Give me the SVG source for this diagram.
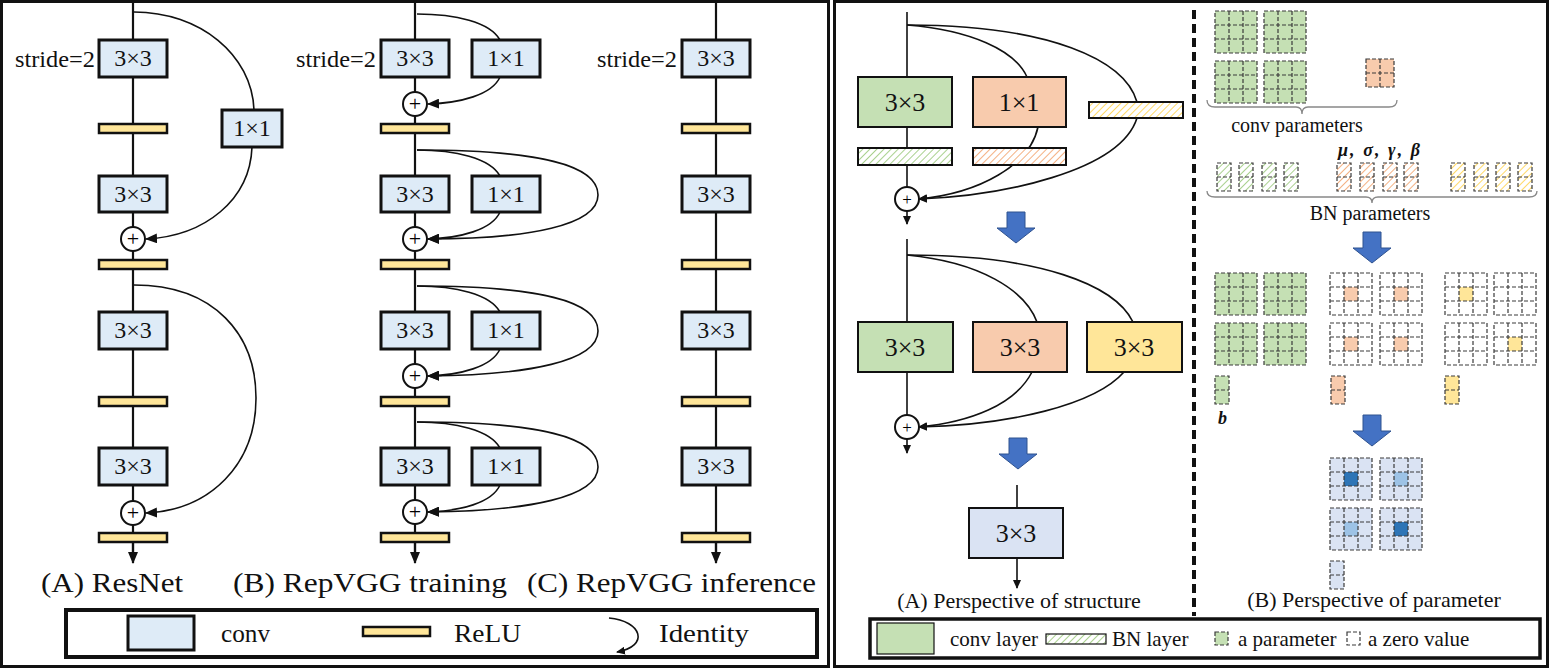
<svg xmlns="http://www.w3.org/2000/svg" xmlns:xlink="http://www.w3.org/1999/xlink" width="1550" height="668" viewBox="0 0 1550 668">
<style>
.t{font-family:"Liberation Serif","Times New Roman",serif;fill:#111}
.conv{fill:#DEEBF7;stroke:#111;stroke-width:3}
.relu{fill:#FFE699;stroke:#111;stroke-width:2.5}
.ln{fill:none;stroke:#111;stroke-width:2.2}
.ln2{fill:none;stroke:#111;stroke-width:1.6}
.circ{fill:#fff;stroke:#111;stroke-width:2}
.plus{font-family:"Liberation Serif","Times New Roman",serif;fill:#000}
.bx{stroke:#111;stroke-width:2}
.dash{fill:none;stroke:#3a3a3a;stroke-width:1.2;stroke-dasharray:4,2}
.brace{fill:none;stroke:#888;stroke-width:1.3}
.barrow{fill:#4472C4;stroke:#2F528F;stroke-width:1}
.frame{fill:none;stroke:#111;stroke-width:3}
</style>
<defs>
<marker id="ah" markerUnits="userSpaceOnUse" markerWidth="12" markerHeight="10" refX="11" refY="5" orient="auto"><path d="M0,0 L12,5 L0,10 Z" fill="#111"/></marker>
<marker id="ahs" markerUnits="userSpaceOnUse" markerWidth="9" markerHeight="8" refX="8" refY="4" orient="auto"><path d="M0,0 L9,4 L0,8 Z" fill="#111"/></marker>
<pattern id="hg" width="5" height="5" patternUnits="userSpaceOnUse" patternTransform="rotate(45)"><rect width="5" height="5" fill="#fff"/><line x1="0" y1="0" x2="0" y2="5" stroke="#A9D18E" stroke-width="2"/></pattern>
<pattern id="ho" width="5" height="5" patternUnits="userSpaceOnUse" patternTransform="rotate(45)"><rect width="5" height="5" fill="#fff"/><line x1="0" y1="0" x2="0" y2="5" stroke="#F4B183" stroke-width="2"/></pattern>
<pattern id="hy" width="5" height="5" patternUnits="userSpaceOnUse" patternTransform="rotate(45)"><rect width="5" height="5" fill="#fff"/><line x1="0" y1="0" x2="0" y2="5" stroke="#FFD966" stroke-width="2"/></pattern>
<g id="g3lines"><path class="dash" d="M0,0 H42 V42 H0 Z M14,0 V42 M28,0 V42 M0,14 H42 M0,28 H42"/></g>
<g id="gGreen"><rect width="42" height="42" fill="#C5E0B4"/><use href="#g3lines"/></g>
<g id="gWhite"><rect width="42" height="42" fill="#fff"/><use href="#g3lines"/></g>
<g id="gOrange"><rect width="42" height="42" fill="#fff"/><rect x="14" y="14" width="14" height="14" fill="#F8CBAD"/><use href="#g3lines"/></g>
<g id="gYellow"><rect width="42" height="42" fill="#fff"/><rect x="14" y="14" width="14" height="14" fill="#FFE699"/><use href="#g3lines"/></g>
<g id="gBlueD"><rect width="42" height="42" fill="#DAE3F3"/><rect x="14" y="14" width="14" height="14" fill="#2E75B6"/><use href="#g3lines"/></g>
<g id="gBlueL"><rect width="42" height="42" fill="#DAE3F3"/><rect x="14" y="14" width="14" height="14" fill="#9DC3E6"/><use href="#g3lines"/></g>
<g id="vlines"><path class="dash" d="M0,0 H14 V28 H0 Z M0,14 H14"/></g>
<path id="barrowShape" class="barrow" d="M10,0 H28 V16 H38 L19,31 L0,16 H10 Z"/>
</defs>
<rect width="1550" height="668" fill="#fff"/>

<!-- Panel frames -->
<rect class="frame" x="1.5" y="1.5" width="827" height="665"/>
<rect class="frame" x="834.5" y="1.5" width="713" height="665"/>

<!-- ===== LEFT PANEL connectors ===== -->
<g id="left-connectors">
  <line class="ln" x1="133" y1="0" x2="133" y2="552"/>
  <line class="ln" x1="133" y1="541" x2="133" y2="563" marker-end="url(#ah)"/>
  <path class="ln2" d="M134,12 C200,12 252,55 254,110"/>
  <path class="ln2" d="M252,147 C250,200 205,236 146,239" marker-end="url(#ah)"/>
  <path class="ln2" d="M134,285 C215,285 256,335 256,398 C256,465 210,510 146,513" marker-end="url(#ah)"/>

  <line class="ln" x1="415" y1="0" x2="415" y2="552"/>
  <line class="ln" x1="415" y1="541" x2="415" y2="563" marker-end="url(#ah)"/>
  <path class="ln2" d="M417,14 C455,14 490,22 500,40"/>
  <path class="ln2" d="M500,77 C492,95 460,103 428,104" marker-end="url(#ah)"/>

  <path class="ln2" d="M417,150 C455,150 490,158 500,176"/>
  <path class="ln2" d="M417,150 C540,150 598,165 598,195 C598,225 530,239 428,239" marker-end="url(#ah)"/>
  <path class="ln2" d="M500,212 C492,230 460,238 428,239" marker-end="url(#ah)"/>

  <path class="ln2" d="M417,286 C455,286 490,294 500,312"/>
  <path class="ln2" d="M417,286 C540,286 598,301 598,331 C598,361 530,375 428,376" marker-end="url(#ah)"/>
  <path class="ln2" d="M500,349 C492,367 460,375 428,376" marker-end="url(#ah)"/>

  <path class="ln2" d="M417,422 C455,422 490,430 500,448"/>
  <path class="ln2" d="M417,422 C540,422 598,437 598,467 C598,497 530,511 428,512" marker-end="url(#ah)"/>
  <path class="ln2" d="M500,485 C492,503 460,511 428,512" marker-end="url(#ah)"/>

  <line class="ln" x1="716" y1="0" x2="716" y2="552"/>
  <line class="ln" x1="716" y1="541" x2="716" y2="563" marker-end="url(#ah)"/>
</g>

<!-- Column A: ResNet -->
<g id="colA">
  <text class="t" x="95" y="67" font-size="23" text-anchor="end" textLength="80" lengthAdjust="spacingAndGlyphs">stride=2</text>
  <rect class="conv" x="99" y="40" width="68" height="37"/><text class="t" x="133" y="66" font-size="24" text-anchor="middle">3×3</text>
  <rect class="relu" x="99" y="124" width="68" height="9"/>
  <rect class="conv" x="222" y="110" width="60" height="37"/><text class="t" x="252" y="136" font-size="24" text-anchor="middle">1×1</text>
  <rect class="conv" x="99" y="176" width="68" height="36"/><text class="t" x="133" y="202" font-size="24" text-anchor="middle">3×3</text>
  <circle class="circ" cx="133" cy="239" r="12"/><text class="plus" x="133" y="246" font-size="22" text-anchor="middle">+</text>
  <rect class="relu" x="99" y="260" width="68" height="9"/>
  <rect class="conv" x="99" y="312" width="68" height="37"/><text class="t" x="133" y="338" font-size="24" text-anchor="middle">3×3</text>
  <rect class="relu" x="99" y="397" width="68" height="9"/>
  <rect class="conv" x="99" y="448" width="68" height="37"/><text class="t" x="133" y="474" font-size="24" text-anchor="middle">3×3</text>
  <circle class="circ" cx="133" cy="513" r="12"/><text class="plus" x="133" y="520" font-size="22" text-anchor="middle">+</text>
  <rect class="relu" x="99" y="533" width="68" height="9"/>
  <text class="t" x="41" y="592" font-size="27" textLength="142" lengthAdjust="spacingAndGlyphs">(A) ResNet</text>
</g>

<!-- Column B: RepVGG training -->
<g id="colB">
  <text class="t" x="376" y="67" font-size="23" text-anchor="end" textLength="80" lengthAdjust="spacingAndGlyphs">stride=2</text>
  <rect class="conv" x="381" y="40" width="68" height="37"/><text class="t" x="415" y="66" font-size="24" text-anchor="middle">3×3</text>
  <rect class="conv" x="472" y="40" width="68" height="37"/><text class="t" x="506" y="66" font-size="24" text-anchor="middle">1×1</text>
  <circle class="circ" cx="415" cy="104" r="12"/><text class="plus" x="415" y="111" font-size="22" text-anchor="middle">+</text>
  <rect class="relu" x="381" y="124" width="68" height="9"/>
  <rect class="conv" x="381" y="176" width="68" height="36"/><text class="t" x="415" y="202" font-size="24" text-anchor="middle">3×3</text>
  <rect class="conv" x="472" y="176" width="68" height="36"/><text class="t" x="506" y="202" font-size="24" text-anchor="middle">1×1</text>
  <circle class="circ" cx="415" cy="239" r="12"/><text class="plus" x="415" y="246" font-size="22" text-anchor="middle">+</text>
  <rect class="relu" x="381" y="260" width="68" height="9"/>
  <rect class="conv" x="381" y="312" width="68" height="37"/><text class="t" x="415" y="338" font-size="24" text-anchor="middle">3×3</text>
  <rect class="conv" x="472" y="312" width="68" height="37"/><text class="t" x="506" y="338" font-size="24" text-anchor="middle">1×1</text>
  <circle class="circ" cx="415" cy="376" r="12"/><text class="plus" x="415" y="383" font-size="22" text-anchor="middle">+</text>
  <rect class="relu" x="381" y="397" width="68" height="9"/>
  <rect class="conv" x="381" y="448" width="68" height="37"/><text class="t" x="415" y="474" font-size="24" text-anchor="middle">3×3</text>
  <rect class="conv" x="472" y="448" width="68" height="37"/><text class="t" x="506" y="474" font-size="24" text-anchor="middle">1×1</text>
  <circle class="circ" cx="415" cy="512" r="12"/><text class="plus" x="415" y="519" font-size="22" text-anchor="middle">+</text>
  <rect class="relu" x="381" y="533" width="68" height="9"/>
  <text class="t" x="233" y="592" font-size="27" textLength="274" lengthAdjust="spacingAndGlyphs">(B) RepVGG training</text>
</g>

<!-- Column C: RepVGG inference -->
<g id="colC">
  <text class="t" x="677" y="67" font-size="23" text-anchor="end" textLength="80" lengthAdjust="spacingAndGlyphs">stride=2</text>
  <rect class="conv" x="682" y="40" width="68" height="37"/><text class="t" x="716" y="66" font-size="24" text-anchor="middle">3×3</text>
  <rect class="relu" x="682" y="124" width="68" height="9"/>
  <rect class="conv" x="682" y="176" width="68" height="36"/><text class="t" x="716" y="202" font-size="24" text-anchor="middle">3×3</text>
  <rect class="relu" x="682" y="260" width="68" height="9"/>
  <rect class="conv" x="682" y="312" width="68" height="37"/><text class="t" x="716" y="338" font-size="24" text-anchor="middle">3×3</text>
  <rect class="relu" x="682" y="397" width="68" height="9"/>
  <rect class="conv" x="682" y="448" width="68" height="37"/><text class="t" x="716" y="474" font-size="24" text-anchor="middle">3×3</text>
  <rect class="relu" x="682" y="533" width="68" height="9"/>
  <text class="t" x="527" y="592" font-size="27" textLength="289" lengthAdjust="spacingAndGlyphs">(C) RepVGG inference</text>
</g>

<!-- Left legend -->
<g id="legend-left">
  <rect x="66" y="610" width="751" height="47" fill="none" stroke="#111" stroke-width="4"/>
  <rect class="conv" x="128" y="616" width="66" height="34"/>
  <text class="t" x="221" y="642" font-size="26" textLength="49" lengthAdjust="spacingAndGlyphs">conv</text>
  <rect class="relu" x="363" y="627" width="67" height="9"/>
  <text class="t" x="454" y="642" font-size="26" textLength="67" lengthAdjust="spacingAndGlyphs">ReLU</text>
  <path class="ln2" d="M609,618 C642,621 650,646 617,652" marker-end="url(#ahs)"/>
  <text class="t" x="659" y="642" font-size="26" textLength="90" lengthAdjust="spacingAndGlyphs">Identity</text>
</g>

<!-- ===== RIGHT PANEL: structure ===== -->
<g id="right-connectors">
  <line class="ln2" x1="907" y1="12" x2="907" y2="187"/>
  <line class="ln2" x1="907" y1="211" x2="907" y2="224" marker-end="url(#ahs)"/>
  <path class="ln2" d="M907,25 C970,30 1015,50 1027,77"/>
  <path class="ln2" d="M907,25 C1050,25 1125,60 1137,102"/>
  <path class="ln2" d="M1038,127 C1030,165 980,193 919,199" marker-end="url(#ahs)"/>
  <path class="ln2" d="M1137,118 C1120,172 1000,196 919,199" marker-end="url(#ahs)"/>

  <line class="ln2" x1="907" y1="239" x2="907" y2="415"/>
  <line class="ln2" x1="907" y1="439" x2="907" y2="453" marker-end="url(#ahs)"/>
  <path class="ln2" d="M907,255 C980,262 1025,290 1037,322"/>
  <path class="ln2" d="M907,255 C1040,255 1115,285 1133,322"/>
  <path class="ln2" d="M1032,372 C1015,405 970,422 919,427" marker-end="url(#ahs)"/>
  <path class="ln2" d="M1124,372 C1095,405 1010,425 919,427" marker-end="url(#ahs)"/>

  <line class="ln2" x1="1017" y1="485" x2="1017" y2="508"/>
  <line class="ln2" x1="1017" y1="558" x2="1017" y2="588" marker-end="url(#ahs)"/>
</g>

<g id="structure-block1">
  <rect class="bx" x="858" y="77" width="94" height="50" fill="#C5E0B4"/><text class="t" x="905" y="111" font-size="26" text-anchor="middle">3×3</text>
  <rect class="bx" x="973" y="77" width="93" height="50" fill="#F8CBAD"/><text class="t" x="1019" y="111" font-size="26" text-anchor="middle">1×1</text>
  <rect class="bx" x="1089" y="102" width="94" height="16" fill="url(#hy)"/>
  <rect class="bx" x="858" y="148" width="94" height="17" fill="url(#hg)"/>
  <rect class="bx" x="973" y="148" width="93" height="17" fill="url(#ho)"/>
  <circle class="circ" cx="907" cy="199" r="12" stroke-width="1.6"/><text class="plus" x="907" y="205" font-size="17" text-anchor="middle" fill="#1F3864">+</text>
</g>

<use href="#barrowShape" x="997" y="212"/>

<g id="structure-block2">
  <rect class="bx" x="858" y="322" width="95" height="50" fill="#C5E0B4"/><text class="t" x="905" y="356" font-size="26" text-anchor="middle">3×3</text>
  <rect class="bx" x="973" y="322" width="94" height="50" fill="#F8CBAD"/><text class="t" x="1020" y="356" font-size="26" text-anchor="middle">3×3</text>
  <rect class="bx" x="1087" y="322" width="95" height="50" fill="#FFE699"/><text class="t" x="1134" y="356" font-size="26" text-anchor="middle">3×3</text>
  <circle class="circ" cx="907" cy="427" r="12" stroke-width="1.6"/><text class="plus" x="907" y="433" font-size="17" text-anchor="middle">+</text>
</g>

<use href="#barrowShape" x="999" y="438"/>

<g id="structure-block3">
  <rect class="bx" x="969" y="508" width="94" height="50" fill="#DAE3F3"/><text class="t" x="1016" y="542" font-size="26" text-anchor="middle">3×3</text>
</g>

<text class="t" x="1019" y="608" font-size="22" text-anchor="middle">(A) Perspective of structure</text>

<!-- divider -->
<line x1="1194" y1="10" x2="1194" y2="616" stroke="#111" stroke-width="4" stroke-dasharray="9,5"/>

<!-- ===== RIGHT PANEL: parameters ===== -->
<g id="conv-params">
  <use href="#gGreen" x="1215" y="11"/>
  <use href="#gGreen" x="1264" y="11"/>
  <use href="#gGreen" x="1215" y="61"/>
  <use href="#gGreen" x="1264" y="61"/>
  <rect x="1366" y="59" width="28" height="28" fill="#F8CBAD"/>
  <path class="dash" d="M1366,59 H1394 V87 H1366 Z M1380,59 V87 M1366,73 H1394"/>
  <path class="brace" d="M1207,100 Q1207,107 1215,107 H1296 Q1302,107 1302,114 Q1302,107 1308,107 H1389 Q1397,107 1397,100"/>
  <text class="t" x="1297" y="132" font-size="20" text-anchor="middle">conv parameters</text>
</g>

<g id="bn-params">
  <text class="t" x="1338" y="156" font-size="18" font-weight="bold" font-style="italic" textLength="82" lengthAdjust="spacing">μ,  σ,  γ,  β</text>
  <rect x="1217" y="163" width="14" height="28" fill="url(#hg)"/><use href="#vlines" x="1217" y="163"/>
  <rect x="1239" y="163" width="14" height="28" fill="url(#hg)"/><use href="#vlines" x="1239" y="163"/>
  <rect x="1262" y="163" width="14" height="28" fill="url(#hg)"/><use href="#vlines" x="1262" y="163"/>
  <rect x="1284" y="163" width="14" height="28" fill="url(#hg)"/><use href="#vlines" x="1284" y="163"/>
  <rect x="1337" y="163" width="14" height="28" fill="url(#ho)"/><use href="#vlines" x="1337" y="163"/>
  <rect x="1360" y="163" width="14" height="28" fill="url(#ho)"/><use href="#vlines" x="1360" y="163"/>
  <rect x="1383" y="163" width="14" height="28" fill="url(#ho)"/><use href="#vlines" x="1383" y="163"/>
  <rect x="1404" y="163" width="14" height="28" fill="url(#ho)"/><use href="#vlines" x="1404" y="163"/>
  <rect x="1451" y="163" width="14" height="28" fill="url(#hy)"/><use href="#vlines" x="1451" y="163"/>
  <rect x="1474" y="163" width="14" height="28" fill="url(#hy)"/><use href="#vlines" x="1474" y="163"/>
  <rect x="1496" y="163" width="14" height="28" fill="url(#hy)"/><use href="#vlines" x="1496" y="163"/>
  <rect x="1518" y="163" width="14" height="28" fill="url(#hy)"/><use href="#vlines" x="1518" y="163"/>
  <path class="brace" d="M1207,191 Q1207,197 1215,197 H1366 Q1372,197 1372,203 Q1372,197 1378,197 H1529 Q1537,197 1537,191"/>
  <text class="t" x="1370" y="220" font-size="20" text-anchor="middle">BN parameters</text>
</g>

<use href="#barrowShape" x="1353" y="232"/>

<g id="fused-params">
  <use href="#gGreen" x="1215" y="273"/>
  <use href="#gGreen" x="1264" y="273"/>
  <use href="#gGreen" x="1215" y="323"/>
  <use href="#gGreen" x="1264" y="323"/>
  <use href="#gOrange" x="1330" y="273"/>
  <use href="#gOrange" x="1380" y="273"/>
  <use href="#gOrange" x="1330" y="323"/>
  <use href="#gOrange" x="1380" y="323"/>
  <use href="#gYellow" x="1445" y="273"/>
  <use href="#gWhite" x="1494" y="273"/>
  <use href="#gWhite" x="1445" y="323"/>
  <use href="#gYellow" x="1494" y="323"/>
  <rect x="1215" y="376" width="14" height="28" fill="#C5E0B4"/><use href="#vlines" x="1215" y="376"/>
  <rect x="1331" y="376" width="14" height="28" fill="#F8CBAD"/><use href="#vlines" x="1331" y="376"/>
  <rect x="1445" y="376" width="14" height="28" fill="#FFE699"/><use href="#vlines" x="1445" y="376"/>
  <text class="t" x="1218" y="424" font-size="18" font-weight="bold" font-style="italic">b</text>
</g>

<use href="#barrowShape" x="1353" y="415"/>

<g id="final-params">
  <use href="#gBlueD" x="1330" y="458"/>
  <use href="#gBlueL" x="1380" y="458"/>
  <use href="#gBlueL" x="1330" y="508"/>
  <use href="#gBlueD" x="1380" y="508"/>
  <rect x="1330" y="561" width="14" height="28" fill="#DAE3F3"/><use href="#vlines" x="1330" y="561"/>
</g>

<text class="t" x="1374" y="607" font-size="22" text-anchor="middle">(B) Perspective of parameter</text>

<!-- Right legend -->
<g id="legend-right">
  <rect x="870" y="619" width="670" height="39" fill="none" stroke="#111" stroke-width="3.5"/>
  <rect x="877" y="623" width="57" height="31" fill="#C5E0B4" stroke="#111" stroke-width="1.2"/>
  <text class="t" x="950" y="646" font-size="21">conv layer</text>
  <rect x="1046" y="634" width="60" height="10" fill="url(#hg)" stroke="#111" stroke-width="1.2"/>
  <text class="t" x="1112" y="646" font-size="21">BN layer</text>
  <rect x="1215" y="632" width="13" height="13" fill="#C5E0B4"/>
  <path class="dash" d="M1215,632 H1228 V645 H1215 Z"/>
  <text class="t" x="1238" y="646" font-size="21">a parameter</text>
  <path class="dash" d="M1347,632 H1360 V645 H1347 Z"/>
  <text class="t" x="1368" y="646" font-size="21">a zero value</text>
</g>
</svg>
